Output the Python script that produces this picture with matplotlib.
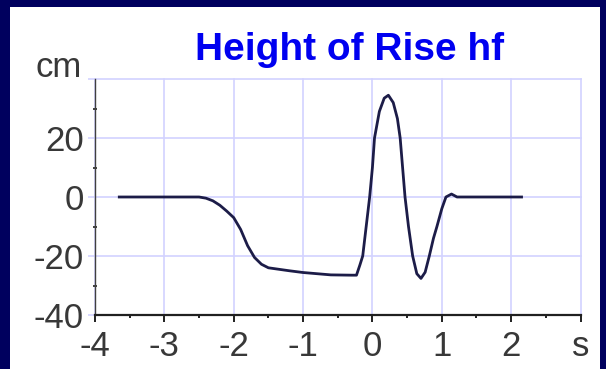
import matplotlib
matplotlib.use("Agg")
import matplotlib.pyplot as plt
from matplotlib import font_manager
from matplotlib.patches import Rectangle
from matplotlib.ticker import MultipleLocator

# ============================================================
# DATA
# ============================================================

time_s = [-3.65, -2.5, -2.4, -2.3, -2.2, -2.1, -2.0, -1.9, -1.8, -1.7,
          -1.6, -1.5, -1.2, -1.0, -0.6, -0.3, -0.23, -0.18, -0.14, -0.09,
          -0.04, 0.0, 0.03, 0.1, 0.17, 0.23, 0.3, 0.36, 0.40, 0.47,
          0.52, 0.58, 0.64, 0.70, 0.76, 0.82, 0.88, 0.93, 1.0, 1.06,
          1.14, 1.22, 2.15]
height_cm = [0, 0, -0.4, -1.3, -2.8, -4.8, -7.0, -11.0, -16.5, -20.5,
             -22.8, -24.0, -25.0, -25.6, -26.4, -26.5, -26.5, -23.0, -20.0, -10.0,
             0.0, 10.0, 20.0, 29.0, 33.5, 34.5, 32.0, 26.6, 20.0, 0.0,
             -10.0, -20.0, -26.0, -27.6, -25.5, -20.0, -14.0, -10.0, -4.0, 0.0,
             1.0, 0.0, 0.0]

x_ticks = [-4, -3, -2, -1, 0, 1, 2, 3]
x_tick_labels = ["-4", "-3", "-2", "-1", "0", "1", "2", "s"]
y_ticks = [-40, -20, 0, 20]
y_tick_labels = ["-40", "-20", "0", "20"]
title = "Height of Rise hf"
y_unit = "cm"

# ============================================================
# FONTS
# ============================================================

installed = {f.name for f in font_manager.fontManager.ttflist}
narrow = next((f for f in ["Liberation Sans Narrow", "DejaVu Sans Condensed",
                           "Liberation Sans"] if f in installed), "DejaVu Sans")
bold_face = "Liberation Sans" if "Liberation Sans" in installed else "DejaVu Sans"

NAVY = "#00005e"
GRID = "#d2d2ff"
LINE = "#1c1c48"
LABEL = "#383838"

# ============================================================
# FIGURE
# ============================================================

fig = plt.figure(figsize=(6.06, 3.69), dpi=100, facecolor=NAVY)
fig.patches.append(Rectangle((10 / 606, 0), 590 / 606, 362 / 369,
                             transform=fig.transFigure, facecolor="white",
                             edgecolor="none", zorder=-5))

ax = fig.add_axes([95 / 606, 54 / 369, 485.5 / 606, 236 / 369])
ax.set_zorder(2)
ax.set_facecolor("white")
ax.set_xlim(-4, 3)
ax.set_ylim(-40, 40)

ax.plot(time_s, height_cm, color=LINE, lw=2.0, zorder=3)

ax.set_xticks(x_ticks)
ax.set_xticklabels(x_tick_labels)
ax.set_yticks(y_ticks + [40])
ax.set_yticklabels(y_tick_labels + [""])
ax.xaxis.set_minor_locator(MultipleLocator(0.5))
ax.yaxis.set_minor_locator(MultipleLocator(10))

ax.grid(True, which="major", color=GRID, lw=1.2, zorder=0)
ax.set_axisbelow(True)
for gl in ax.get_xgridlines() + ax.get_ygridlines():
    gl.set_clip_on(False)

for side in ["top", "right"]:
    ax.spines[side].set_visible(False)
ax.spines["left"].set_color("#404040")
ax.spines["left"].set_linewidth(1.0)
ax.spines["bottom"].set_color("#202020")
ax.spines["bottom"].set_linewidth(1.6)

ax.tick_params(axis="x", which="major", direction="out", length=5, width=1.4,
               color="#202020", pad=6, labelsize=25, labelcolor=LABEL)
ax.tick_params(axis="x", which="minor", direction="out", length=2, width=1.4,
               color="#202020")
ax.tick_params(axis="y", which="major", direction="out", length=5, width=1.2,
               color=GRID, pad=3, labelsize=25, labelcolor=LABEL)
ax.tick_params(axis="y", which="minor", direction="inout", length=3, width=1.4,
               color="#404040")
ax.yaxis.get_major_ticks()[0].tick1line.set_color("#202020")

for lab in ax.get_xticklabels() + ax.get_yticklabels():
    lab.set_family(narrow)

fig.text(82 / 606, 292 / 369, y_unit, ha="right", va="baseline",
         fontsize=25, color=LABEL, family=narrow)
fig.text(350 / 606, 309 / 369, title, ha="center", va="baseline",
         fontsize=28, fontweight="bold", color="#0000f0", family=bold_face)

fig.savefig("out.png", dpi=100, facecolor=NAVY)
